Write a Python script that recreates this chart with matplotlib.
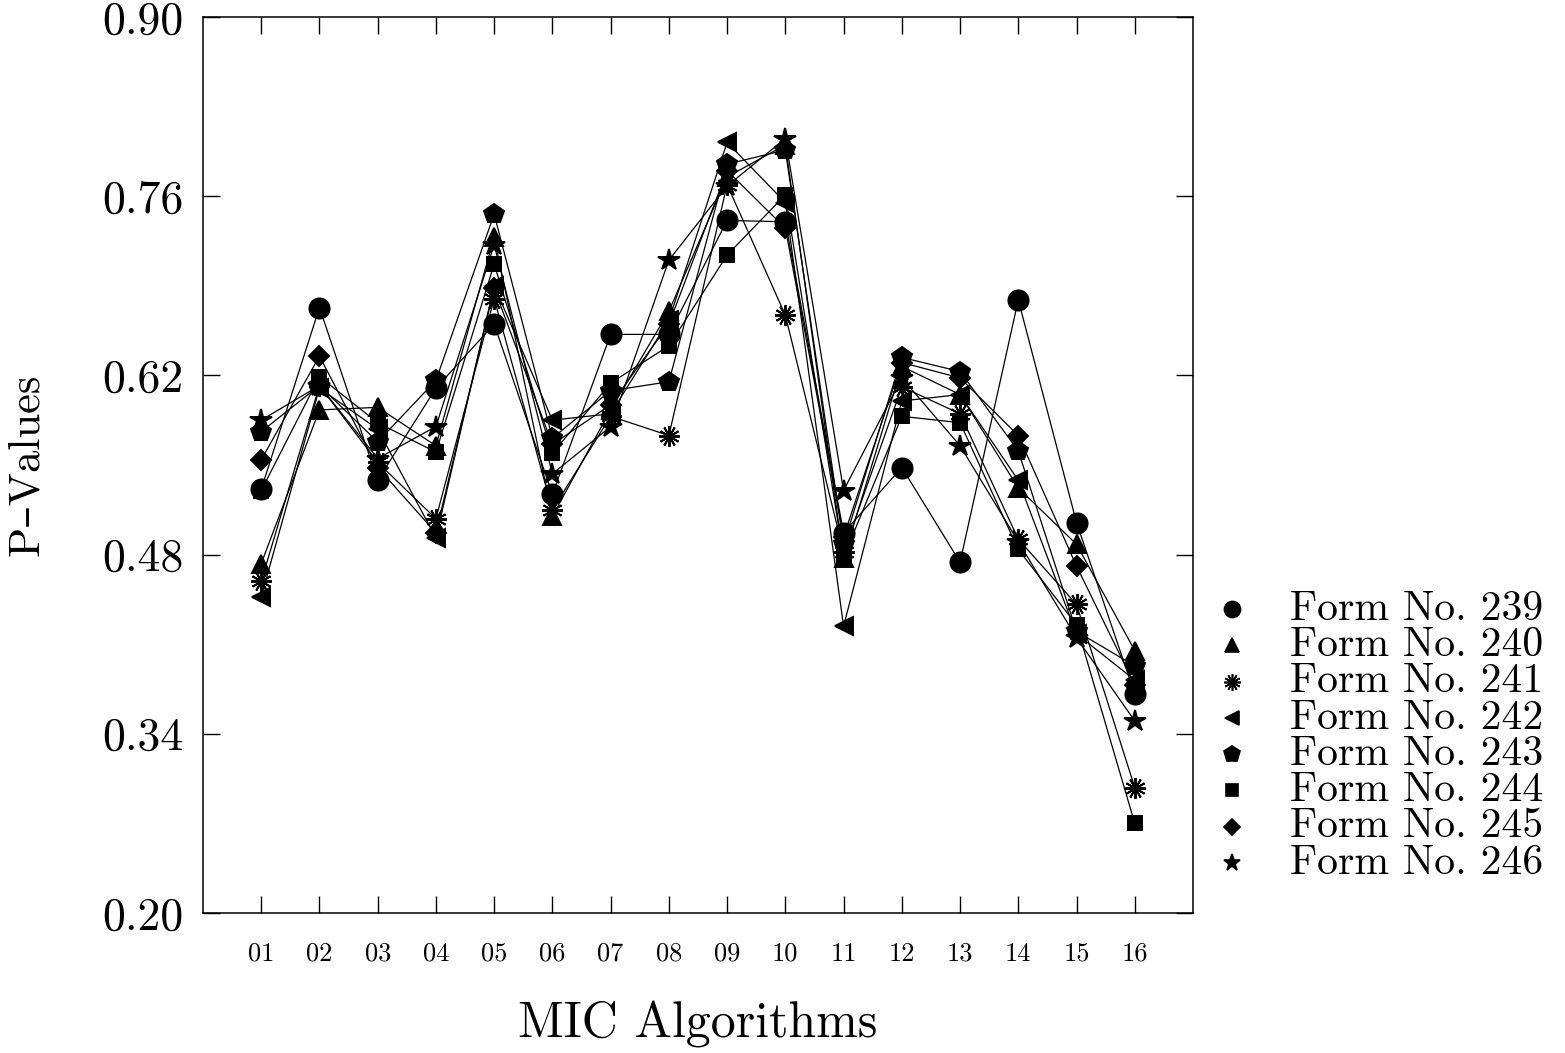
import numpy as np
import matplotlib
matplotlib.use("Agg")
import matplotlib.pyplot as plt

plt.rcParams['font.family'] = ['cmr10', 'DejaVu Serif']

# MIC algorithm ids on the x axis
algorithms = ['01', '02', '03', '04', '05', '06', '07', '08',
              '09', '10', '11', '12', '13', '14', '15', '16']

# p-values per form
form_239 = [0.531, 0.673, 0.538, 0.610, 0.660, 0.527, 0.652, 0.652,
            0.741, 0.740, 0.497, 0.548, 0.474, 0.679, 0.505, 0.371]
form_240 = [0.473, 0.593, 0.595, 0.565, 0.728, 0.510, 0.593, 0.670,
            0.775, 0.800, 0.477, 0.627, 0.605, 0.532, 0.488, 0.405]
form_241 = [0.459, 0.612, 0.552, 0.508, 0.680, 0.515, 0.588, 0.573,
            0.769, 0.667, 0.482, 0.611, 0.590, 0.492, 0.441, 0.298]
form_242 = [0.447, 0.610, 0.578, 0.493, 0.690, 0.585, 0.590, 0.663,
            0.802, 0.755, 0.424, 0.600, 0.605, 0.538, 0.418, 0.382]
form_243 = [0.576, 0.612, 0.568, 0.616, 0.746, 0.571, 0.608, 0.615,
            0.785, 0.796, 0.488, 0.634, 0.623, 0.561, 0.420, 0.393]
form_244 = [0.530, 0.619, 0.583, 0.560, 0.707, 0.559, 0.614, 0.643,
            0.714, 0.761, 0.478, 0.588, 0.583, 0.484, 0.425, 0.270]
form_245 = [0.554, 0.635, 0.548, 0.497, 0.688, 0.566, 0.597, 0.660,
            0.780, 0.735, 0.494, 0.630, 0.618, 0.573, 0.471, 0.378]
form_246 = [0.585, 0.612, 0.555, 0.580, 0.722, 0.543, 0.580, 0.710,
            0.768, 0.805, 0.530, 0.618, 0.565, 0.490, 0.415, 0.350]

form_labels = ['Form No. 239', 'Form No. 240', 'Form No. 241', 'Form No. 242',
               'Form No. 243', 'Form No. 244', 'Form No. 245', 'Form No. 246']
y_ticks = [0.20, 0.34, 0.48, 0.62, 0.76, 0.90]

series = [form_239, form_240, form_241, form_242,
          form_243, form_244, form_245, form_246]
markers = ['o', '^', (12, 2, 0), '<', 'p', 's', 'D', '*']
msizes = [14.5, 12.5, 15, 12.5, 15, 10.5, 10.5, 16]

fig = plt.figure(figsize=(15.65, 10.53), dpi=100)
ax = fig.add_axes([0.1297, 0.133, 0.6326, 0.8509])

x = np.arange(1, len(algorithms) + 1)
for vals, m, ms in zip(series, markers, msizes):
    ax.plot(x, vals, color='black', lw=0.9, marker=m, ms=ms,
            mfc='black', mec='black', mew=1.4)

ax.set_xlim(0, 17)
ax.set_ylim(0.20, 0.90)
ax.set_xticks(x)
ax.set_xticklabels(algorithms, fontsize=19)
ax.set_yticks(y_ticks)
ax.set_yticklabels(['%.2f' % v for v in y_ticks], fontsize=33)
ax.tick_params(axis='both', direction='in', length=12, width=1,
               top=True, right=True)
ax.tick_params(axis='x', pad=21)
ax.tick_params(axis='y', pad=14)
for s in ax.spines.values():
    s.set_linewidth(1.1)

ax.set_xlabel('MIC Algorithms', fontsize=36)
ax.xaxis.set_label_coords(0.5, -0.098)
ax.set_ylabel('P\u2013Values', fontsize=32)
ax.yaxis.set_label_coords(-0.158, 0.5)

# legend drawn by hand to get the tight row spacing
lax = fig.add_axes([0.77, 0.1633, 0.23, 0.2754])
lax.set_xlim(0, 1)
lax.set_ylim(0, 1)
lax.axis('off')
n = len(form_labels)
for i, (lab, m, ms) in enumerate(zip(form_labels, markers, msizes)):
    yy = 1 - (i + 0.5) / n
    lax.plot([0.075], [yy], color='black', marker=m, ms=ms * 0.8,
             mfc='black', mec='black', mew=1.2, ls='none')
    lax.text(0.236, yy, lab, fontsize=30, va='center', ha='left')

fig.savefig('out.png', dpi=100)
